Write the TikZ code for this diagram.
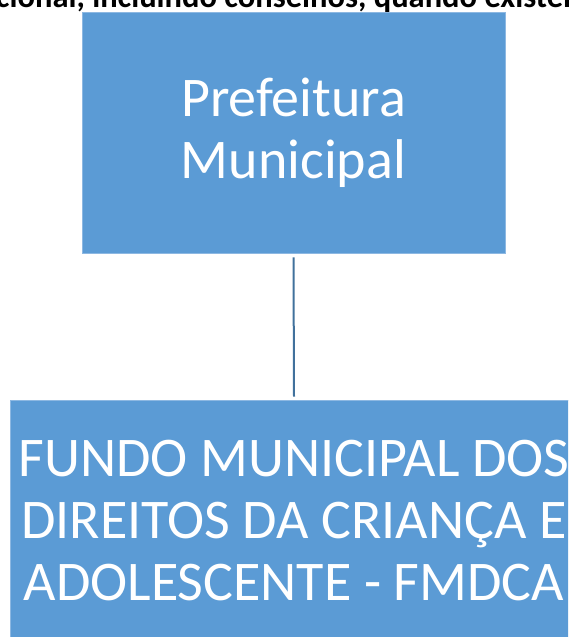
\documentclass[tikz,border=0pt]{standalone}
\usepackage{fontspec}
\setmainfont{Carlito}
\definecolor{boxblue}{HTML}{5B9BD5}
\definecolor{boxedge}{HTML}{8DB8E2}
\definecolor{linkblue}{HTML}{41719C}
\begin{document}
\begin{tikzpicture}[x=1pt,y=1pt,
  orgbox/.style={fill=boxblue,draw=boxedge,line width=0.8pt,inner sep=0pt,
    text=white,align=center,font=\fontsize{56}{62}\selectfont},
  link/.style={draw=linkblue,line width=2pt}]
\useasboundingbox (0,0) rectangle (568,637);
\clip (0,0) rectangle (568,637);
\node[anchor=base west,inner sep=0pt,font=\fontsize{32.5}{38}\selectfont\bfseries] (caption) at (92,629)
  {\llap{institucional, }incluindo conselhos, quando existentes};
\node[orgbox,minimum width=423,minimum height=241] (pref) at (293.5,504.5)
  {Prefeitura\\Municipal};
\node[orgbox,minimum width=568,minimum height=242] (fundo) at (294,116)
  {FUNDO MUNICIPAL DOS\\DIREITOS DA CRIANÇA E\\ADOLESCENTE - FMDCA};
\draw[link] ([yshift=-4pt]pref.south) -- ([yshift=3pt]fundo.north);
\end{tikzpicture}
\end{document}
